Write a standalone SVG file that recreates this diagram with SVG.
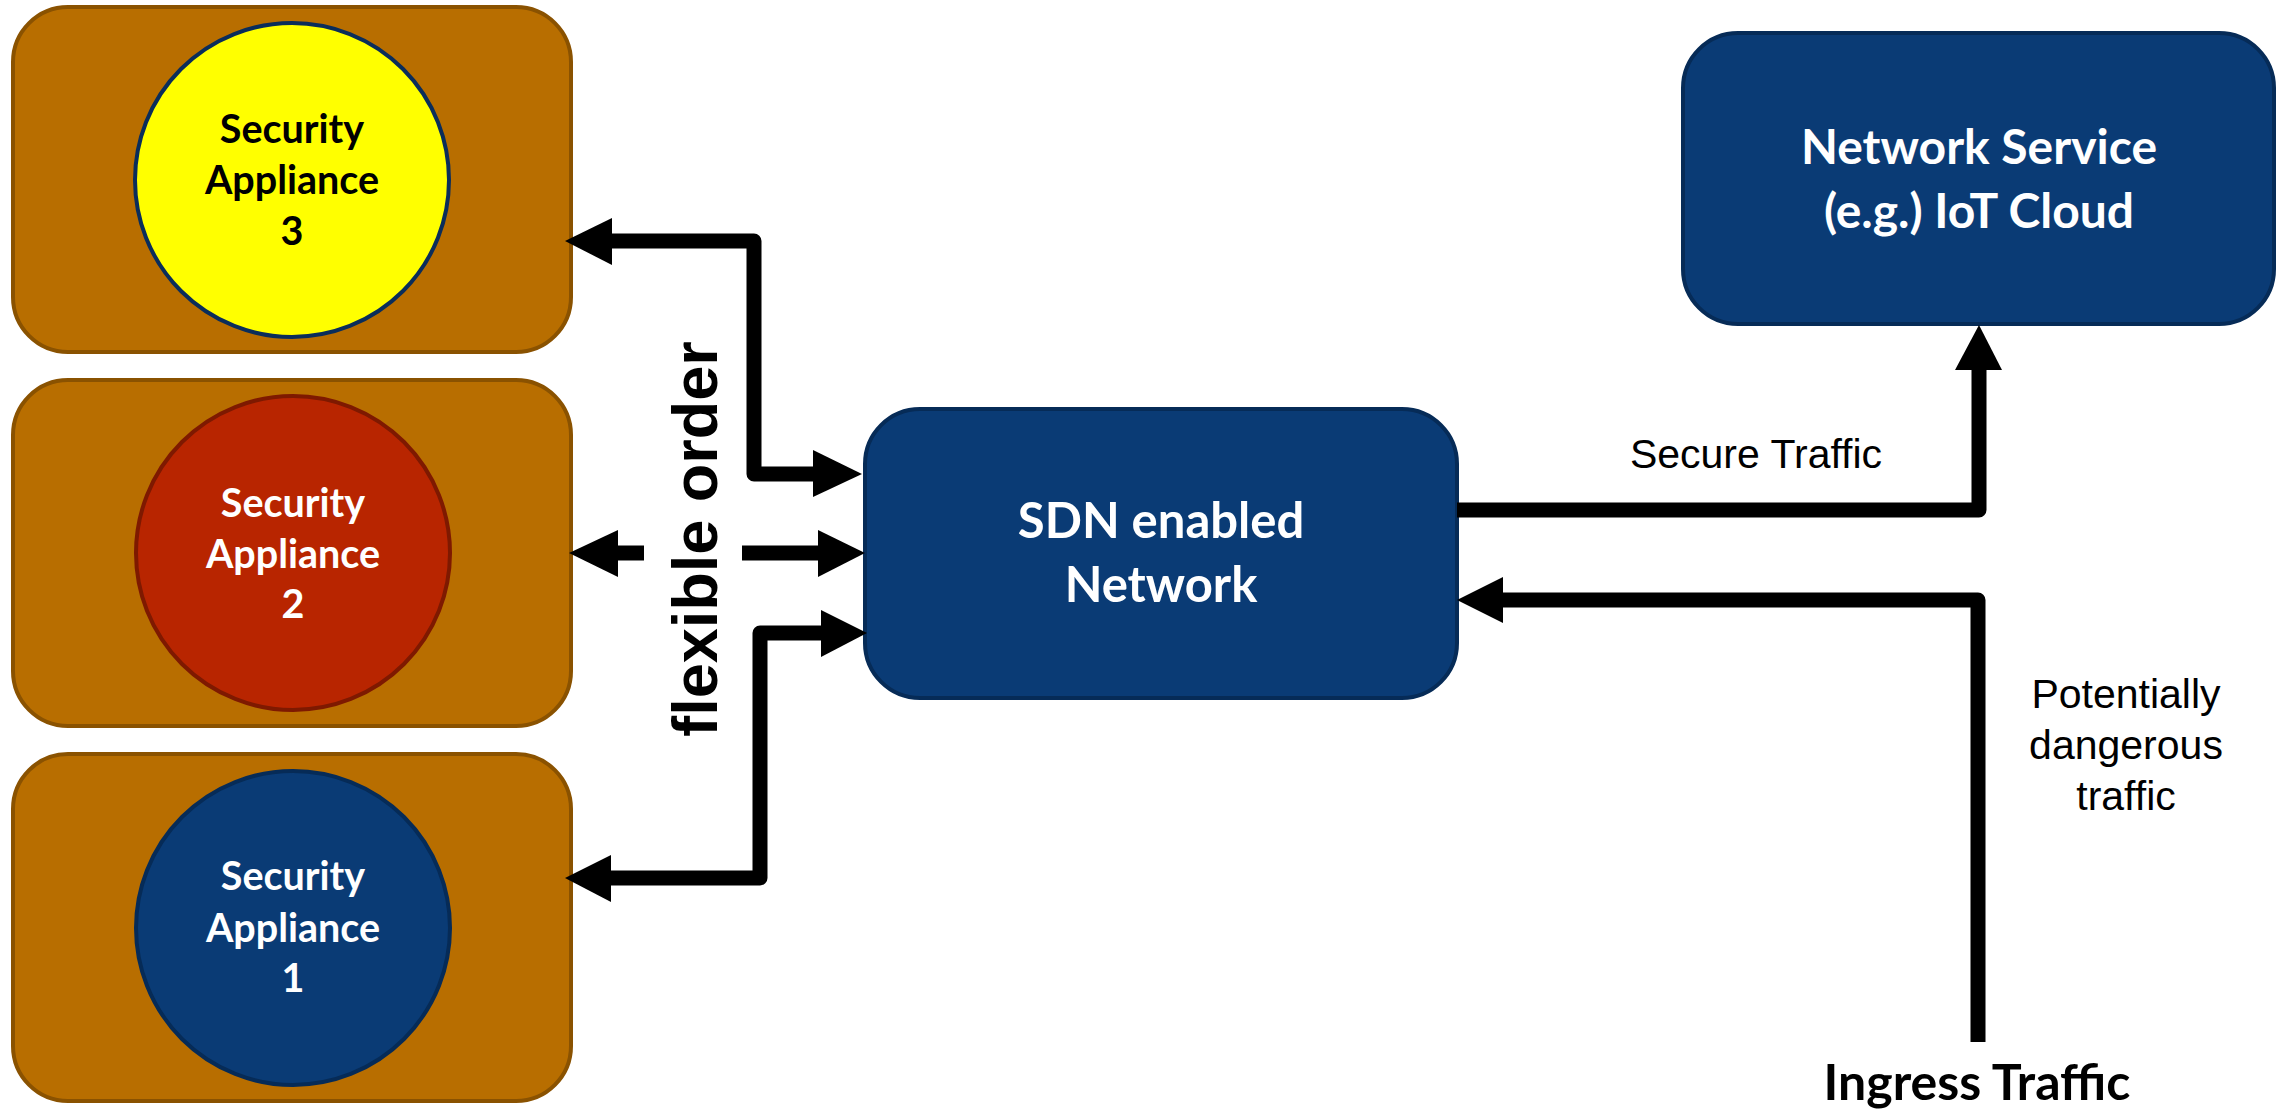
<svg xmlns="http://www.w3.org/2000/svg" width="2277" height="1112" viewBox="0 0 2277 1112">
<style>
.box{fill:#B86E00;stroke:#8A5200;stroke-width:4}
.navy{fill:#0A3B75;stroke:#062B57;stroke-width:4}
.lbl{font-family:Lato,"Open Sans",sans-serif;font-weight:bold;text-anchor:middle}
.w{fill:#FFFFFF}
.k{fill:#000000}
.reg{font-family:"Liberation Sans",Arial,sans-serif;font-size:41px;text-anchor:middle;fill:#000}
.ln{fill:none;stroke:#000;stroke-width:15;stroke-linejoin:round}
.ah{fill:#000}
</style>
<rect width="2277" height="1112" fill="#FFFFFF"/>
<g id="appliance3">
<rect class="box" x="13" y="7" width="558" height="345" rx="55" ry="55"/>
<circle cx="292" cy="180" r="157" fill="#FFFF00" stroke="#0A2D5A" stroke-width="4"/>
<text class="lbl k" font-size="39.5" x="292" y="143">Security</text>
<text class="lbl k" font-size="39.5" x="292" y="194">Appliance</text>
<text class="lbl k" font-size="39.5" x="292" y="245">3</text>
</g>
<g id="appliance2">
<rect class="box" x="13" y="380" width="558" height="346" rx="55" ry="55"/>
<circle cx="293" cy="553" r="157" fill="#B82500" stroke="#7E1900" stroke-width="4"/>
<text class="lbl w" font-size="39.5" x="293" y="517">Security</text>
<text class="lbl w" font-size="39.5" x="293" y="568">Appliance</text>
<text class="lbl w" font-size="39.5" x="293" y="618">2</text>
</g>
<g id="appliance1">
<rect class="box" x="13" y="754" width="558" height="347" rx="55" ry="55"/>
<circle cx="293" cy="928" r="157" fill="#0A3B75" stroke="#062B57" stroke-width="4"/>
<text class="lbl w" font-size="39.5" x="293" y="890">Security</text>
<text class="lbl w" font-size="39.5" x="293" y="942">Appliance</text>
<text class="lbl w" font-size="39.5" x="293" y="992">1</text>
</g>
<g id="sdn">
<rect class="navy" x="865" y="409" width="592" height="289" rx="55" ry="55"/>
<text class="lbl w" font-size="49" x="1161" y="538">SDN enabled</text>
<text class="lbl w" font-size="49" x="1161" y="602">Network</text>
</g>
<g id="service">
<rect class="navy" x="1683" y="33" width="591" height="291" rx="55" ry="55"/>
<text class="lbl w" font-size="48" x="1979" y="164">Network Service</text>
<text class="lbl w" font-size="48" x="1979" y="228">(e.g.) IoT Cloud</text>
</g>
<g id="connectors">
<path class="ln" d="M612 241 H754 V474 H814"/>
<polygon class="ah" points="565,241 612,218 612,265"/>
<polygon class="ah" points="862,474 813,450 813,497"/>
<path class="ln" d="M617 553 H644"/>
<polygon class="ah" points="569,553 618,530 618,577"/>
<path class="ln" d="M742 553 H819"/>
<polygon class="ah" points="865,553 818,530 818,577"/>
<path class="ln" d="M610 878 H760 V633 H822"/>
<polygon class="ah" points="565,878 611,855 611,902"/>
<polygon class="ah" points="867,633 821,610 821,657"/>
<path class="ln" d="M1457 510 H1979 V369"/>
<polygon class="ah" points="1979,325 1955,370 2002,370"/>
<path class="ln" d="M1978 1042 V600 H1502"/>
<polygon class="ah" points="1457,600 1503,577 1503,623"/>
</g>
<g id="labels">
<text font-family="'Liberation Sans',Arial,sans-serif" font-weight="bold" font-size="63" text-anchor="middle" fill="#000" transform="translate(717,539) rotate(-90)">flexible order</text>
<text class="reg" x="1756" y="468">Secure Traffic</text>
<text class="reg" x="2126" y="708">Potentially</text>
<text class="reg" x="2126" y="759">dangerous</text>
<text class="reg" x="2126" y="810">traffic</text>
<text class="lbl k" font-size="50" x="1977" y="1100">Ingress Traffic</text>
</g>
</svg>
